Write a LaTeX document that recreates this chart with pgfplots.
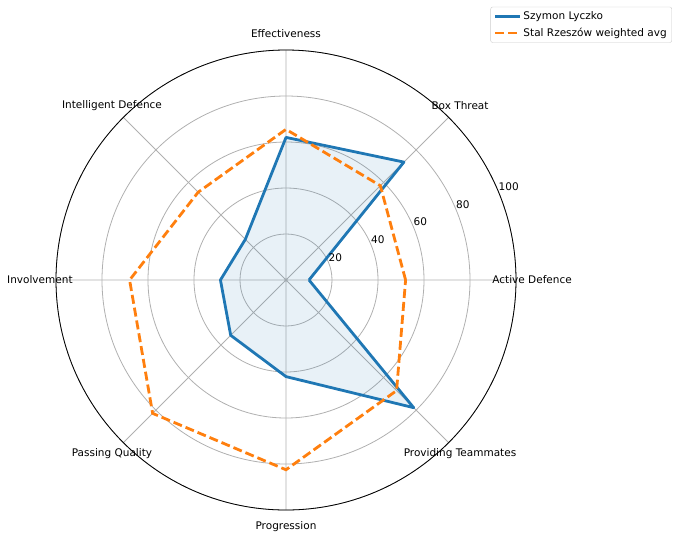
\documentclass[border=0pt]{standalone}
\usepackage{fontspec}
\setmainfont{DejaVu Sans}
\usepackage{pgfplots}
\pgfplotsset{compat=1.18}
\usepgfplotslibrary{polar}
\definecolor{mblue}{HTML}{1F77B4}
\definecolor{morange}{HTML}{FF7F0E}
\definecolor{mgrid}{HTML}{B0B0B0}
\begin{document}
\fontsize{10.5}{12.6}\selectfont
\begin{tikzpicture}
\path[use as bounding box] (0,0) rectangle (680pt,-538pt);
\begin{polaraxis}[
  at={(286pt,-280pt)}, anchor=center,
  width=460pt, height=460pt, scale only axis,
  xmin=0, xmax=360, ymin=0, ymax=100,
  xtick={0,45,...,315}, ytick={20,40,60,80,100},
  xticklabels={}, yticklabels={},
  grid=major, major grid style={mgrid, line width=0.8pt},
  x axis line style={black, line width=0.8pt},
  y axis line style={draw=none},
  major tick length=0pt,
  clip=false,
  legend cell align=left,
  legend style={at={(1.339,1.094)}, anchor=north east, draw=black!20, rounded corners=2pt,
    fill=white, font=\fontsize{10.5}{12.6}\selectfont, inner xsep=3pt, inner ysep=2.5pt,
    row sep=3pt},
  legend image code/.code={\draw[#1] (0pt,0pt) -- (25pt,0pt);},
]
\addplot[fill=mblue, fill opacity=0.1, draw=none, forget plot] coordinates {
(0,10) (45,72.5) (90,62) (135,25) (180,28.5) (225,34) (270,42) (315,78.5) (360,10)};
\addplot[mblue, line width=2.8pt, line join=round] coordinates {
(0,10) (45,72.5) (90,62) (135,25) (180,28.5) (225,34) (270,42) (315,78.5) (360,10)};
\addlegendentry{Szymon Lyczko}
\addplot[morange, line width=2.8pt, dash pattern=on 9pt off 4pt] coordinates {
(0,52) (45,58) (90,65.5) (135,54) (180,68) (225,82) (270,82.5) (315,68) (360,52)};
\addlegendentry{Stal Rzeszów weighted avg}
\node[anchor=center, inner sep=0pt] at (axis cs:0,107) {Active Defence};
\node[anchor=center, inner sep=0pt] at (axis cs:45,107) {Box Threat};
\node[anchor=center, inner sep=0pt] at (axis cs:90,107) {Effectiveness};
\node[anchor=center, inner sep=0pt] at (axis cs:135,107) {Intelligent Defence};
\node[anchor=center, inner sep=0pt] at (axis cs:180,107) {Involvement};
\node[anchor=center, inner sep=0pt] at (axis cs:225,107) {Passing Quality};
\node[anchor=center, inner sep=0pt] at (axis cs:270,107) {Progression};
\node[anchor=center, inner sep=0pt] at (axis cs:315,107) {Providing Teammates};
\node[anchor=south west, inner sep=0pt, yshift=1pt] at (axis cs:22.5,20) {20};
\node[anchor=south west, inner sep=0pt, yshift=1pt] at (axis cs:22.5,40) {40};
\node[anchor=south west, inner sep=0pt, yshift=1pt] at (axis cs:22.5,60) {60};
\node[anchor=south west, inner sep=0pt, yshift=1pt] at (axis cs:22.5,80) {80};
\node[anchor=south west, inner sep=0pt, yshift=1pt] at (axis cs:22.5,100) {100};
\end{polaraxis}
\end{tikzpicture}
\end{document}
